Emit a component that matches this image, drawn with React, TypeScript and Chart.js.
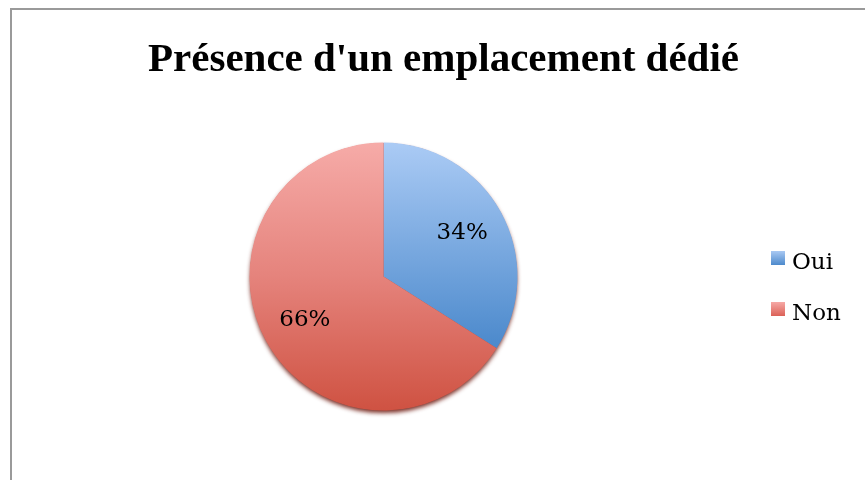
import React, { useEffect, useRef } from "react";
import { Chart, registerables } from "chart.js";

Chart.register(...registerables);

const titleText = "Présence d'un emplacement dédié";
const categories = ["Oui", "Non"];
const values = [34, 66];

const sliceGradients: [number, string][][] = [
  [
    [0, "#ABCBF5"],
    [0.74, "#4E8BCD"],
    [1, "#3E7CC3"],
  ],
  [
    [0, "#F6ABA8"],
    [0.5, "#E5837C"],
    [1, "#CF5242"],
  ],
];
const legendGradients: [string, string][] = [
  ["#A9C9F3", "#4D8ACC"],
  ["#F6A9A6", "#DB6157"],
];

const labelFont = '23px "DejaVu Serif", serif';

const chartTitle = {
  id: "chartTitle",
  afterDraw(chart: any) {
    const ctx = chart.ctx;
    ctx.save();
    ctx.font = 'bold 41px "Liberation Serif", serif';
    ctx.fillStyle = "#000";
    ctx.textAlign = "center";
    ctx.textBaseline = "alphabetic";
    ctx.fillText(titleText, chart.width / 2, 62);
    ctx.restore();
  },
};

const sliceLabels = {
  id: "sliceLabels",
  afterDatasetsDraw(chart: any) {
    const ctx = chart.ctx;
    const meta = chart.getDatasetMeta(0);
    const data = chart.data.datasets[0].data as number[];
    const total = data.reduce((a, b) => a + b, 0);
    ctx.save();
    ctx.font = labelFont;
    ctx.fillStyle = "#000";
    ctx.textAlign = "center";
    ctx.textBaseline = "middle";
    meta.data.forEach((arc: any, i: number) => {
      const p = arc.getProps(["x", "y", "startAngle", "endAngle", "outerRadius"], true);
      const mid = (p.startAngle + p.endAngle) / 2;
      const r = p.outerRadius * 0.67;
      const txt = Math.round((data[i] / total) * 100) + "%";
      ctx.fillText(txt, p.x + Math.cos(mid) * r, p.y + Math.sin(mid) * r);
    });
    ctx.restore();
  },
};

const pieShadow = {
  id: "pieShadow",
  beforeDatasetsDraw(chart: any) {
    const meta = chart.getDatasetMeta(0);
    const arc: any = meta.data[0];
    if (!arc) return;
    const p = arc.getProps(["x", "y", "outerRadius"], true);
    const ctx = chart.ctx;
    ctx.save();
    ctx.shadowColor = "rgba(110, 25, 15, 0.9)";
    ctx.shadowBlur = 4;
    ctx.shadowOffsetX = 0;
    ctx.shadowOffsetY = 3;
    ctx.fillStyle = "#b0483c";
    ctx.beginPath();
    ctx.arc(p.x, p.y, p.outerRadius - 0.5, 0, Math.PI * 2);
    ctx.fill();
    ctx.restore();
  },
};

const sideLegend = {
  id: "sideLegend",
  afterDraw(chart: any) {
    const ctx = chart.ctx;
    const labels = chart.data.labels as string[];
    const boxX = 760;
    const textX = 781;
    const firstBaseline = 260;
    const step = 51;
    const size = 14;
    ctx.save();
    ctx.font = labelFont;
    ctx.textAlign = "left";
    ctx.textBaseline = "alphabetic";
    labels.forEach((lab, i) => {
      const base = firstBaseline + i * step;
      const top = base - 18;
      const g = ctx.createLinearGradient(0, top, 0, top + size);
      g.addColorStop(0, legendGradients[i][0]);
      g.addColorStop(1, legendGradients[i][1]);
      ctx.fillStyle = g;
      ctx.fillRect(boxX, top, size, size);
      ctx.fillStyle = "#000";
      ctx.fillText(lab, textX, base);
    });
    ctx.restore();
  },
};

export default function App() {
  const ref = useRef<HTMLCanvasElement | null>(null);

  useEffect(() => {
    if (!ref.current) return;
    const chart = new Chart(ref.current, {
      type: "pie",
      data: {
        labels: categories,
        datasets: [
          {
            data: values,
            borderWidth: 0,
            backgroundColor: (c: any) => {
              const chart = c.chart;
              const area = chart.chartArea;
              const stops = sliceGradients[c.dataIndex % sliceGradients.length];
              if (!area) return stops[0][1];
              const g = chart.ctx.createLinearGradient(0, area.top, 0, area.bottom);
              stops.forEach(([o, col]) => g.addColorStop(o, col));
              return g;
            },
          },
        ],
      },
      options: {
        animation: false,
        responsive: false,
        maintainAspectRatio: false,
        layout: { padding: { left: 0, right: 120, top: 133.5, bottom: 69.5 } },
        plugins: {
          legend: { display: false },
          tooltip: { enabled: false },
          title: { display: false },
        },
      },
      plugins: [pieShadow, sliceLabels, sideLegend, chartTitle],
    });
    return () => chart.destroy();
  }, []);

  return (
    <div
      style={{
        position: "fixed",
        left: 0,
        top: 0,
        width: 865,
        height: 480,
        overflow: "hidden",
        background: "#fff",
      }}
    >
      <div
        style={{
          position: "absolute",
          left: 10,
          top: 8,
          width: 900,
          height: 520,
          borderLeft: "2px solid #9a9a9a",
          borderTop: "2px solid #9a9a9a",
        }}
      />
      <canvas
        ref={ref}
        width={865}
        height={471}
        style={{ position: "absolute", left: 11, top: 9, width: 865, height: 471 }}
      />
    </div>
  );
}
